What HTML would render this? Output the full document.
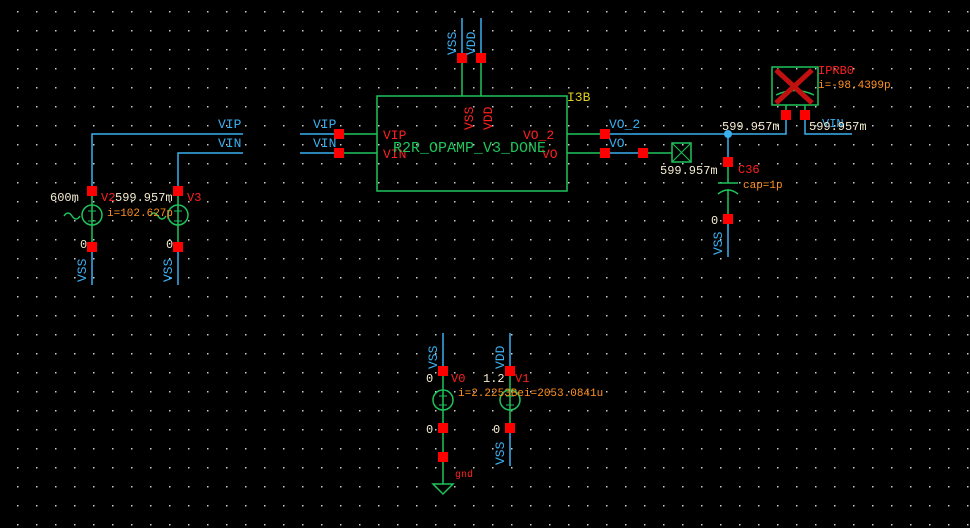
<!DOCTYPE html>
<html><head><style>
html,body{margin:0;padding:0;background:#000;}
svg{display:block}
text{font-family:"Liberation Mono",monospace;}
</style></head><body>
<svg width="970" height="528" viewBox="0 0 970 528" xmlns="http://www.w3.org/2000/svg">
<defs>
<pattern id="g" x="17" y="11" width="19" height="19" patternUnits="userSpaceOnUse">
<rect x="0" y="0" width="1.5" height="1.5" fill="#ccc"/>
</pattern>
</defs>
<rect width="970" height="528" fill="#000"/>
<rect width="970" height="528" fill="url(#g)"/>

<g fill="none" stroke-width="1.5">
<path d="M92 191 V134 H243" stroke="#3ab0f0"/>
<path d="M178 191 V153 H243" stroke="#3ab0f0"/>
<path d="M92 247 V285 M178 247 V285" stroke="#3ab0f0"/>
<path d="M92 191 V247 M178 191 V247" stroke="#1ec45a"/>
<circle cx="92" cy="215" r="10" stroke="#1ec45a"/>
<circle cx="178" cy="215" r="10" stroke="#1ec45a"/>
<path d="M64 216 q4 -6 8 0 t8 0 M150 216 q4 -6 8 0 t8 0" stroke="#1ec45a"/>
<rect x="377" y="96" width="190" height="95" stroke="#1ec45a"/>
<path d="M462 58 V96 M481 58 V96 M339 134 H377 M339 153 H377 M567 134 H605 M567 153 H605" stroke="#1ec45a"/>
<path d="M462 58 V18 M481 58 V18 M300 134 H339 M300 153 H339" stroke="#3ab0f0"/>
<path d="M605 134 H786 V115 M805 115 V134 H852 M605 153 H643" stroke="#3ab0f0"/>
<path d="M643 153 H672" stroke="#1ec45a"/>
<rect x="672" y="143" width="19" height="19" stroke="#1ec45a"/>
<path d="M672 143 L691 162 M691 143 L672 162" stroke="#1ec45a" stroke-width="1"/>
<path d="M728 134 V162 M728 219 V257" stroke="#3ab0f0"/>
<path d="M728 162 V183 M718 183 H738 M718 194 Q728 186 738 194 M728 189 V219" stroke="#1ec45a"/>
<rect x="772" y="67" width="46" height="38" stroke="#1ec45a"/>
<path d="M776 95 Q795 86 814 95 M786 105 V115 M805 105 V115" stroke="#1ec45a"/>
<path d="M776 70 L812 103 M812 70 L776 103" stroke="#c01010" stroke-width="5"/>
<path d="M443 333 V371 M510 333 V371 M510 428 V466" stroke="#3ab0f0"/>
<path d="M443 371 V484 M510 371 V428" stroke="#1ec45a"/>
<circle cx="443" cy="400" r="10" stroke="#1ec45a"/>
<circle cx="510" cy="400" r="10" stroke="#1ec45a"/>
<path d="M433 484 H453 L443 494 Z" stroke="#1ec45a"/>
</g>
<g stroke="#1ec45a" stroke-width="1">
<path d="M88 211 h8 M92 207 v8 M88 221 h8 M174 211 h8 M178 207 v8 M174 221 h8 M439 396 h8 M443 392 v8 M439 405 h8 M506 396 h8 M510 392 v8 M506 405 h8"/>
</g>
<circle cx="728" cy="134" r="4" fill="#3ab0f0"/>

<g fill="#ff0000">
<rect x="87" y="186" width="10" height="10"/><rect x="173" y="186" width="10" height="10"/>
<rect x="87" y="242" width="10" height="10"/><rect x="173" y="242" width="10" height="10"/>
<rect x="457" y="53" width="10" height="10"/><rect x="476" y="53" width="10" height="10"/>
<rect x="334" y="129" width="10" height="10"/><rect x="334" y="148" width="10" height="10"/>
<rect x="600" y="129" width="10" height="10"/><rect x="600" y="148" width="10" height="10"/>
<rect x="638" y="148" width="10" height="10"/>
<rect x="723" y="157" width="10" height="10"/><rect x="723" y="214" width="10" height="10"/>
<rect x="781" y="110" width="10" height="10"/><rect x="800" y="110" width="10" height="10"/>
<rect x="438" y="366" width="10" height="10"/><rect x="505" y="366" width="10" height="10"/>
<rect x="438" y="423" width="10" height="10"/><rect x="505" y="423" width="10" height="10"/>
<rect x="438" y="452" width="10" height="10"/>
</g>

<g font-size="13" fill="#3ab0f0">
<text x="218" y="128">VIP</text><text x="218" y="147">VIN</text>
<text x="313" y="128">VIP</text><text x="313" y="147">VIN</text>
<text x="609" y="128">VO_2</text><text x="609" y="147">VO</text>
<text x="822" y="127" font-size="12">VIN</text>
<text transform="translate(86,282) rotate(-90)">VSS</text>
<text transform="translate(172,282) rotate(-90)">VSS</text>
<text transform="translate(456,55) rotate(-90)">VSS</text>
<text transform="translate(475,55) rotate(-90)">VDD</text>
<text transform="translate(722,255) rotate(-90)">VSS</text>
<text transform="translate(437,369) rotate(-90)">VSS</text>
<text transform="translate(504,369) rotate(-90)">VDD</text>
<text transform="translate(504,465) rotate(-90)">VSS</text>
</g>
<g font-size="13" fill="#ff2020">
<text x="383" y="139">VIP</text><text x="383" y="158">VIN</text>
<text x="523" y="139">VO_2</text><text x="542" y="158">VO</text>
<text transform="translate(473,130) rotate(-90)">VSS</text>
<text transform="translate(492,130) rotate(-90)">VDD</text>
</g>
<text x="393" y="152" font-size="15" fill="#1ec45a">R2R_OPAMP_V3_DONE</text>
<text x="567" y="101" font-size="13" fill="#e0d020">I3B</text>
<g font-size="12" fill="#ff2020">
<text x="101" y="201">V2</text><text x="187" y="201">V3</text>
<text x="738" y="173">C36</text><text x="818" y="74">IPRB0</text>
<text x="451" y="382">V0</text><text x="515" y="382">V1</text>
<text x="455" y="477" font-size="10">gnd</text>
</g>
<g font-size="11" fill="#ff9020">
<text x="107" y="216">i=102.627p</text>
<text x="743" y="188">cap=1p</text>
<text x="818" y="88">i=-98.4399p</text>
<text x="458" y="396">i=2.2253Bei=2053.0841u</text>
</g>
<g font-size="12" fill="#f5ecd0">
<text x="50" y="201">600m</text><text x="115" y="201">599.957m</text>
<text x="80" y="248">0</text><text x="166" y="248">0</text>
<text x="660" y="174">599.957m</text>
<text x="722" y="130">599.957m</text><text x="809" y="130">599.957m</text>
<text x="711" y="224">0</text>
<text x="426" y="382">0</text><text x="483" y="382">1.2</text>
<text x="426" y="433">0</text><text x="493" y="433">0</text>
</g>
</svg>
</body></html>
